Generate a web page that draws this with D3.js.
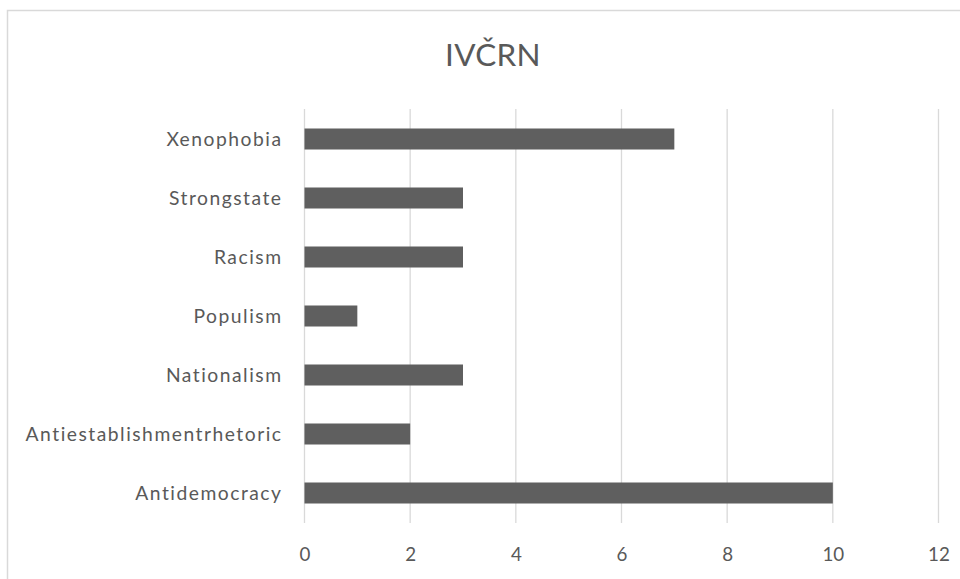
<!DOCTYPE html>
<html>
<head>
<meta charset="utf-8">
<script src="https://cdn.jsdelivr.net/npm/d3@7"></script>
<style>
  html, body { margin: 0; padding: 0; background: #ffffff; overflow: hidden; }
  svg { display: block; }
</style>
</head>
<body>
<svg id="chart" width="960" height="579"></svg>
<script>
const title = "IVČRN";
const categories = ["Xenophobia", "Strongstate", "Racism", "Populism", "Nationalism", "Antiestablishmentrhetoric", "Antidemocracy"];
const values = [7, 3, 3, 1, 3, 2, 10];
const xTicks = [0, 2, 4, 6, 8, 10, 12];

const svg = d3.select("#chart");
const font = "Lato, 'Open Sans', sans-serif";
const textColor = "#595959";
const gridColor = "#d9d9d9";
const barColor = "#5f5f5f";

// chart border
svg.append("rect")
  .attr("x", 7.5).attr("y", 10.5)
  .attr("width", 980).attr("height", 600)
  .attr("fill", "#ffffff")
  .attr("stroke", gridColor)
  .attr("stroke-width", 1.5);

const x = d3.scaleLinear().domain([0, 12]).range([304.5, 938.5]);
const y = d3.scaleBand().domain(categories).range([109.5, 522.5])
  .paddingInner(0.644).paddingOuter(0.322);

// gridlines
svg.append("g").selectAll("line").data(xTicks).join("line")
  .attr("x1", d => x(d)).attr("x2", d => x(d))
  .attr("y1", 109).attr("y2", 523)
  .attr("stroke", gridColor).attr("stroke-width", 1.3);

// bars
svg.append("g").selectAll("rect").data(categories).join("rect")
  .attr("x", x(0))
  .attr("y", d => y(d))
  .attr("width", (d, i) => x(values[i]) - x(0))
  .attr("height", y.bandwidth())
  .attr("fill", barColor);

// x axis labels
const xAxis = d3.axisBottom(x).tickValues(xTicks).tickSize(0).tickPadding(0);
const gx = svg.append("g").attr("transform", "translate(0,548)").call(xAxis);
gx.select(".domain").remove();
gx.selectAll("text")
  .attr("font-family", font).attr("font-size", "18.8px")
  .attr("fill", textColor).attr("dy", "0.71em");

// y axis labels
const yAxis = d3.axisLeft(y).tickSize(0).tickPadding(0);
const gy = svg.append("g").attr("transform", "translate(282.5,0)").call(yAxis);
gy.select(".domain").remove();
gy.selectAll("text")
  .attr("font-family", font).attr("font-size", "19.3px")
  .attr("letter-spacing", "1.5px")
  .attr("fill", textColor).attr("dy", "0.35em");

// title
svg.append("text")
  .attr("x", 493).attr("y", 65.7)
  .attr("text-anchor", "middle")
  .attr("font-family", font).attr("font-size", "31.5px")
  .attr("letter-spacing", "0.3px")
  .attr("fill", textColor)
  .text(title);
</script>
</body>
</html>
